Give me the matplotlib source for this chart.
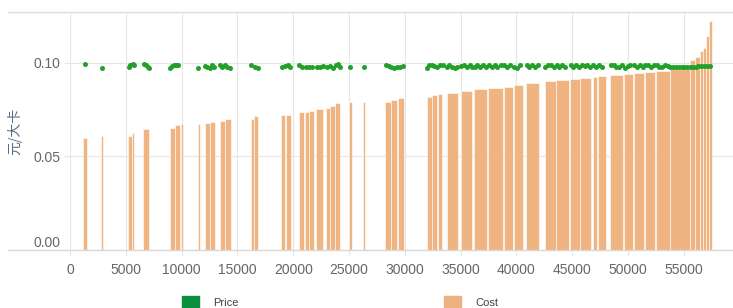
import matplotlib
matplotlib.use("Agg")
import matplotlib.pyplot as plt
from matplotlib.patches import Patch
from matplotlib.lines import Line2D

# cost curve bars: left edge, width (in x units) and cost
bar_left = [1160, 2780, 5200, 5560, 6540, 8960, 9420, 9950, 11470, 12100,
            12560, 13440, 13900, 16220, 16500, 18910, 19360, 20520, 21060, 21420,
            22040, 22940, 23300, 23750, 25000, 26250, 28230, 28770, 29390, 31990,
            32440, 32970, 33780, 35030, 36200, 37460, 38890, 39780, 40860, 42560,
            43560, 44800, 45720, 46860, 47310, 48380, 49640, 50530, 51520, 52510,
            53760, 55560, 56000, 56450, 56720, 56990, 57260]
bar_width = [360, 200, 350, 200, 540, 440, 430, 180, 180, 440,
             430, 450, 530, 270, 350, 350, 440, 440, 350, 440,
             630, 350, 440, 440, 270, 180, 530, 530, 540, 440,
             440, 360, 990, 990, 1180, 1300, 800, 800, 1200, 990,
             1160, 900, 1000, 400, 730, 1170, 800, 900, 900, 1250,
             1780, 440, 450, 270, 270, 270, 270]
bar_cost = [0.0600, 0.0607, 0.0607, 0.0622, 0.0644, 0.0650, 0.0665, 0.0670, 0.0670, 0.0680,
            0.0685, 0.0690, 0.0700, 0.0697, 0.0713, 0.0718, 0.0720, 0.0734, 0.0735, 0.0740,
            0.0750, 0.0758, 0.0770, 0.0787, 0.0790, 0.0790, 0.0790, 0.0800, 0.0810, 0.0818,
            0.0825, 0.0830, 0.0840, 0.0846, 0.0857, 0.0864, 0.0868, 0.0878, 0.0890, 0.0900,
            0.0908, 0.0913, 0.0918, 0.0922, 0.0926, 0.0932, 0.0940, 0.0945, 0.0950, 0.0955,
            0.0968, 0.1016, 0.1030, 0.1060, 0.1080, 0.1140, 0.1220]

# price points
price_x = [1300, 2850, 5250, 5400, 5600, 5750, 6600, 6800, 6950, 7050,
           8990, 9100, 9300, 9500, 9700, 11470, 12100, 12300, 12500, 12700,
           12900, 13450, 13650, 13850, 14100, 14350, 16250, 16600, 16800, 18950,
           19300, 19500, 19750, 20550, 20800, 21100, 21400, 21700, 22100, 22400,
           22650, 23000, 23300, 23600, 23800, 24000, 24150, 25100, 26350, 28300,
           28550, 28800, 29050, 29300, 29550, 29800, 32000, 32200, 32400, 32650,
           32900, 33150, 33400, 33800, 34000, 34250, 34500, 34700, 35050, 35300,
           35550, 35800, 36000, 36250, 36500, 36750, 37000, 37300, 37550, 37800,
           38050, 38300, 38600, 38900, 39150, 39400, 39800, 40050, 40300, 40900,
           41150, 41400, 41650, 41900, 42600, 42850, 43100, 43350, 43600, 43850,
           44100, 44350, 44850, 45100, 45350, 45600, 45850, 46100, 46350, 46600,
           46900, 47100, 47350, 47700, 48450, 48700, 48950, 49200, 49450, 49700,
           49950, 50200, 50550, 50800, 51050, 51300, 51550, 51800, 52050, 52300,
           52550, 52800, 53050, 53300, 53550, 53800, 54050, 54300, 54550, 54800,
           55050, 55300, 55550, 55800, 56050, 56300, 56550, 56800, 57050, 57300]
price_y = [0.0990, 0.0970, 0.0975, 0.0985, 0.0990, 0.0988, 0.0990, 0.0988, 0.0978, 0.0972,
           0.0972, 0.0982, 0.0985, 0.0985, 0.0985, 0.0972, 0.0980, 0.0976, 0.0972, 0.0985,
           0.0978, 0.0985, 0.0978, 0.0988, 0.0975, 0.0972, 0.0988, 0.0978, 0.0972, 0.0975,
           0.0980, 0.0985, 0.0975, 0.0985, 0.0978, 0.0975, 0.0975, 0.0975, 0.0976, 0.0975,
           0.0980, 0.0978, 0.0982, 0.0972, 0.0985, 0.0990, 0.0978, 0.0978, 0.0978, 0.0988,
           0.0982, 0.0975, 0.0972, 0.0978, 0.0975, 0.0982, 0.0972, 0.0985, 0.0988, 0.0982,
           0.0975, 0.0985, 0.0988, 0.0978, 0.0985, 0.0975, 0.0972, 0.0978, 0.0982, 0.0988,
           0.0975, 0.0985, 0.0978, 0.0975, 0.0988, 0.0978, 0.0985, 0.0975, 0.0988, 0.0978,
           0.0985, 0.0978, 0.0988, 0.0985, 0.0975, 0.0988, 0.0978, 0.0972, 0.0988, 0.0985,
           0.0975, 0.0988, 0.0978, 0.0985, 0.0978, 0.0988, 0.0985, 0.0975, 0.0988, 0.0978,
           0.0985, 0.0975, 0.0988, 0.0978, 0.0985, 0.0975, 0.0988, 0.0980, 0.0985, 0.0975,
           0.0985, 0.0978, 0.0988, 0.0975, 0.0985, 0.0988, 0.0975, 0.0978, 0.0985, 0.0972,
           0.0980, 0.0985, 0.0988, 0.0975, 0.0985, 0.0978, 0.0988, 0.0985, 0.0978, 0.0988,
           0.0985, 0.0978, 0.0975, 0.0985, 0.0980, 0.0975, 0.0978, 0.0975, 0.0978, 0.0978,
           0.0975, 0.0978, 0.0978, 0.0978, 0.0978, 0.0980, 0.0980, 0.0980, 0.0980, 0.0980]

x_ticks = [0, 5000, 10000, 15000, 20000, 25000, 30000, 35000, 40000, 45000, 50000, 55000]
y_ticks = [0.00, 0.05, 0.10]

cost_color = '#f0b482'
price_color = '#22a02a'
grid_color = '#e6e6e6'
label_color = '#666666'

plt.rcParams['font.family'] = ['Liberation Sans', 'Noto Sans CJK SC', 'DejaVu Sans']

fig = plt.figure(figsize=(7.33, 3.08), dpi=100)
ax = fig.add_axes([70 / 733, 58 / 308, 663 / 733, 238 / 308])

ax.bar(bar_left, bar_cost, width=bar_width, align='edge', color=cost_color,
       edgecolor='white', linewidth=0.4, zorder=2)
ax.scatter(price_x, price_y, s=13, color=price_color, linewidths=0, zorder=3)

ax.set_xlim(0, 59400)
ax.set_ylim(0, 0.127)
ax.set_xticks(x_ticks)
ax.set_xticklabels([str(t) for t in x_ticks])
ax.set_yticks(y_ticks)
ax.set_yticklabels(['0.00', '0.05', '0.10'])
ax.get_yticklabels()[0].set_va('bottom')

ax.grid(True, color=grid_color, linewidth=0.8, zorder=0)
ax.set_axisbelow(True)
for s in ax.spines.values():
    s.set_visible(False)
ax.tick_params(axis='both', colors=grid_color, labelcolor=label_color,
               labelsize=10, length=4, width=0.8)
ax.tick_params(axis='x', pad=5)
ax.tick_params(axis='y', pad=3)

ax.set_ylabel('元/大卡', color='#5b6b82', fontsize=10,
              family=['Noto Sans CJK SC', 'DejaVu Sans'], labelpad=8)

# frame lines reaching out to the left edge
fig.add_artist(Line2D([8 / 733, 1], [296 / 308, 296 / 308], color='#dddddd', linewidth=1))
fig.add_artist(Line2D([8 / 733, 1], [58 / 308, 58 / 308], color='#d8d8d8', linewidth=1))

handles = [Patch(color='#0b8e3e'), Patch(color='#edb07f')]
fig.legend(handles, ['Price', 'Cost'], loc='upper left',
           bbox_to_anchor=(172 / 733, 1 - 286 / 308), ncol=2, frameon=False,
           fontsize=8, handlelength=1.5, handleheight=1.5, handletextpad=1.3,
           columnspacing=18.5, labelcolor='#444444')

fig.savefig('out.png', dpi=100)
